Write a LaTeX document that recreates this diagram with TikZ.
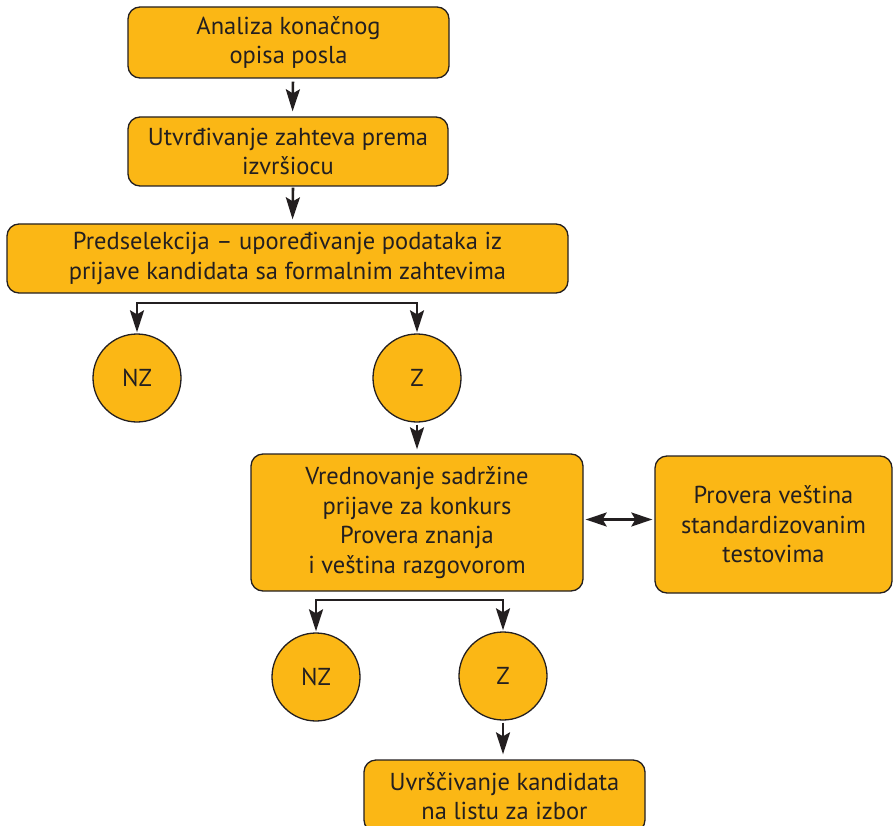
\documentclass[tikz,border=0pt]{standalone}
\usepackage{fontspec}
\setmainfont{PT Sans}
\usetikzlibrary{arrows.meta}
\definecolor{boxfill}{RGB}{251,183,21}
\definecolor{ink}{RGB}{35,31,32}
\begin{document}
\begin{tikzpicture}[x=1pt,y=-1pt,
  box/.style={draw=ink, fill=boxfill, line width=1.3pt, rounded corners=12pt,
    align=center, text=ink, inner sep=0pt, font=\fontsize{24.5}{29.5}\selectfont},
  circ/.style={draw=ink, fill=boxfill, line width=1.3pt, circle, minimum size=88pt,
    inner sep=0pt, text=ink, font=\fontsize{24.5}{29}\selectfont},
  arr/.style={draw=ink, line width=2.6pt, -{Stealth[length=22pt,width=14pt,inset=4pt]}},
  darr/.style={draw=ink, line width=2.6pt, {Stealth[length=21pt,width=14pt,inset=4pt]}-{Stealth[length=21pt,width=14pt,inset=4pt]}}
]
\useasboundingbox (0,0) rectangle (893,826);

\node[box, minimum width=321pt, minimum height=71pt] (b1) at (288.5,42.5) {Analiza konačnog\\opisa posla};
\node[box, minimum width=320pt, minimum height=69pt] (b2) at (288,151.5) {Utvrđivanje zahteva prema\\izvršiocu};
\node[box, minimum width=561pt, minimum height=69pt] (b3) at (287.5,258.5) {Predselekcija – upoređivanje podataka iz\\prijave kandidata sa formalnim zahtevima};

\node[circ] (nz1) at (137,378) {NZ};
\node[circ] (z1) at (417,378) {Z};

\node[box, minimum width=332pt, minimum height=137pt] (b4) at (417,522.5) {Vrednovanje sadržine\\prijave za konkurs\\Provera znanja\\i veština razgovorom};
\node[box, minimum width=237pt, minimum height=137pt] (b5) at (773.5,524.5) {Provera veština\\standardizovanim\\testovima};

\node[circ] (nz2) at (316,677) {NZ};
\node[circ] (z2) at (503,676) {Z};

\node[box, minimum width=281pt, minimum height=72pt] (b6) at (504.5,796) {Uvrščivanje kandidata\\na listu za izbor};

\draw[arr, shorten <=3pt, shorten >=5pt] ([xshift=4.5pt]b1.south) -- ([xshift=4.5pt]b2.north);
\draw[arr, shorten <=1pt, shorten >=4pt] ([xshift=5pt]b2.south) -- ([xshift=5pt]b3.north);

\coordinate (j1) at (277,303);
\draw[arr, shorten >=1pt] (j1) -| (nz1);
\draw[arr, shorten >=1pt] (j1) -| (z1);

\draw[arr, shorten <=2pt, shorten >=4pt] (z1) -- (b4);

\draw[darr, shorten <=2pt, shorten >=2pt] ([yshift=3pt]b4.east) -- ([yshift=3pt]b4.east -| b5.west);

\coordinate (j2) at (410,600);
\draw[arr, shorten >=1pt] (j2) -| (nz2);
\draw[arr, shorten >=1pt] (j2) -| (z2);

\draw[arr, shorten <=2pt, shorten >=5pt] (z2) -- (z2 |- b6.north);
\end{tikzpicture}
\end{document}
